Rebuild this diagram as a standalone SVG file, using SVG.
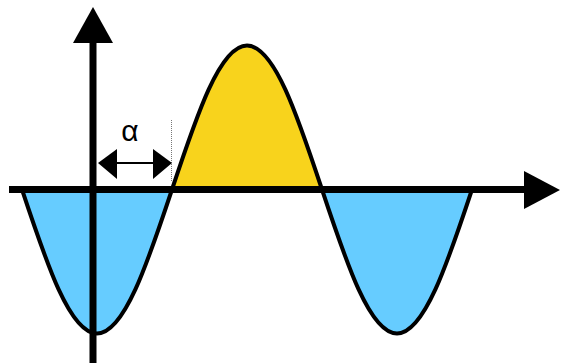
<svg xmlns="http://www.w3.org/2000/svg" width="561" height="363" viewBox="0 0 561 363">
<style>
.blue{fill:#66CCFF;stroke:none}
.yellow{fill:#F8D31C;stroke:none}
.wave{fill:none;stroke:#000;stroke-width:4;stroke-linejoin:round}
.axis{stroke:#000;stroke-width:7;fill:none}
.head{fill:#000}
.dim{stroke:#000;stroke-width:2}
.dot{stroke:#777;stroke-width:1;stroke-dasharray:1 1}
.lbl{font-family:"Liberation Sans",Arial,sans-serif;font-size:30px;fill:#000}
</style>
<g id="fills">
<path class="blue" d="M22,189.5 C46.46,263.27 69.86,333.5 97,333.5 C124.14,333.5 147.54,263.27 172,189.5 Z"/>
<path class="yellow" d="M172,189.5 C196.46,115.73 219.86,45.5 247,45.5 C274.14,45.5 297.54,115.73 322,189.5 Z"/>
<path class="blue" d="M322,189.5 C346.46,263.27 369.86,333.5 397,333.5 C424.14,333.5 447.54,263.27 472,189.5 Z"/>
</g>
<g id="wave">
<path class="wave" d="M22,189.5 C46.46,263.27 69.86,333.5 97,333.5 C124.14,333.5 147.54,263.27 172,189.5 C196.46,115.73 219.86,45.5 247,45.5 C274.14,45.5 297.54,115.73 322,189.5 C346.46,263.27 369.86,333.5 397,333.5 C424.14,333.5 447.54,263.27 472,189.5"/>
</g>
<g id="axes">
<line class="axis" x1="9" y1="189.5" x2="526" y2="189.5"/>
<polygon class="head" points="524,171 560,190 524,209"/>
<line class="axis" x1="93" y1="363" x2="93" y2="41"/>
<polygon class="head" points="73,43 93,7 113,43"/>
</g>
<g id="alpha">
<line class="dot" x1="171.5" y1="120" x2="171.5" y2="182"/>
<line class="dim" x1="110" y1="163" x2="160" y2="163"/>
<polygon class="head" points="98,163 117,149 117,179"/>
<polygon class="head" points="172,163 153,149 153,179"/>
<text class="lbl" x="130" y="141" text-anchor="middle">α</text>
</g>
</svg>
